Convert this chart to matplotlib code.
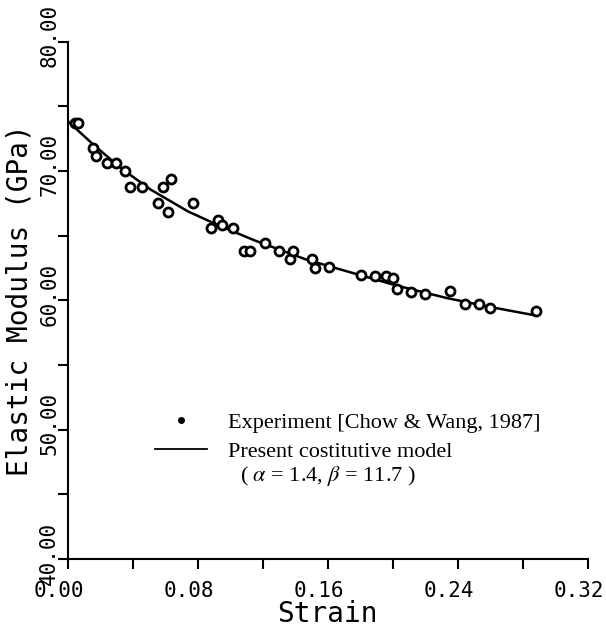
import matplotlib
matplotlib.use('Agg')
from matplotlib import pyplot as plt
from matplotlib.lines import Line2D
from matplotlib.ticker import MultipleLocator, FormatStrFormatter
from matplotlib.transforms import ScaledTranslation

# Datos
strain_exp = [0.0042, 0.0062, 0.0153, 0.0174, 0.0240, 0.0298, 0.0354, 0.0384,
              0.0460, 0.0557, 0.0587, 0.0620, 0.0638, 0.0773, 0.0882, 0.0924,
              0.0950, 0.1015, 0.1087, 0.1122, 0.1213, 0.1300, 0.1369, 0.1389,
              0.1502, 0.1521, 0.1609, 0.1805, 0.1893, 0.1959, 0.2000, 0.2026,
              0.2110, 0.2200, 0.2354, 0.2443, 0.2532, 0.2597, 0.2880]
modulo_exp = [73.73, 73.73, 71.77, 71.18, 70.63, 70.64, 70.00, 68.72,
              68.73, 67.53, 68.76, 66.83, 69.41, 67.50, 65.59, 66.24,
              65.85, 65.61, 63.77, 63.77, 64.40, 63.80, 63.18, 63.82,
              63.17, 62.47, 62.54, 61.94, 61.90, 61.91, 61.71, 60.90,
              60.65, 60.46, 60.69, 59.68, 59.70, 59.40, 59.19]

strain_mod = [0.0, 0.0158, 0.0329, 0.0511, 0.0743, 0.0950, 0.1156, 0.1465,
              0.1712, 0.2020, 0.2330, 0.2592, 0.2869]
modulo_mod = [73.85, 72.03, 70.20, 68.55, 66.85, 65.67, 64.60, 63.16,
              62.26, 61.15, 60.18, 59.50, 58.85]

mono = 'DejaVu Sans Mono'
serif = 'Liberation Serif'
plt.rcParams['mathtext.fontset'] = 'stix'

fig = plt.figure(figsize=(6.06, 6.30), dpi=100)
ax = fig.add_axes([0.1117, 0.1127, 0.858, 0.8214])

ax.plot(strain_mod, modulo_mod, color='black', lw=1.8)
ax.plot(strain_exp, modulo_exp, marker='o', linestyle='None', markersize=6.5,
        markerfacecolor='white', markeredgecolor='black', markeredgewidth=2.0)

ax.set_xlim(0, 0.32)
ax.set_ylim(40, 80)
ax.spines['top'].set_visible(False)
ax.spines['right'].set_visible(False)
ax.spines['left'].set_linewidth(1.5)
ax.spines['bottom'].set_linewidth(1.5)

ax.xaxis.set_major_locator(MultipleLocator(0.08))
ax.xaxis.set_minor_locator(MultipleLocator(0.04))
ax.yaxis.set_major_locator(MultipleLocator(10))
ax.yaxis.set_minor_locator(MultipleLocator(5))
ax.xaxis.set_major_formatter(FormatStrFormatter('%.2f'))
ax.yaxis.set_major_formatter(FormatStrFormatter('%.2f'))
ax.tick_params(which='both', direction='out', length=7, width=1.5)
ax.tick_params(axis='x', pad=9)
ax.tick_params(axis='y', pad=-1)

# en el original las etiquetas estan algo corridas respecto a las marcas
desplaza_x = ScaledTranslation(-9 / 100, 0, fig.dpi_scale_trans)
desplaza_y = ScaledTranslation(0, 6 / 100, fig.dpi_scale_trans)
for t in ax.get_xticklabels():
    t.set_fontfamily(mono)
    t.set_fontsize(15)
    t.set_transform(t.get_transform() + desplaza_x)
for t in ax.get_yticklabels():
    t.set_fontfamily(mono)
    t.set_fontsize(15)
    t.set_rotation(90)
    t.set_va('center')
    t.set_transform(t.get_transform() + desplaza_y)

ax.set_xlabel('Strain', family=mono, fontsize=20, labelpad=-1)
ax.set_ylabel('Elastic Modulus (GPa)', family=mono, fontsize=20, labelpad=4)

handles = [Line2D([], [], marker='o', linestyle='None', color='black', markersize=4),
           Line2D([], [], color='black', lw=1.3)]
labels = ['Experiment [Chow & Wang, 1987]', 'Present costitutive model']
ax.legend(handles, labels, loc='upper left', bbox_to_anchor=(0.168, 0.284),
          frameon=False, borderpad=0, borderaxespad=0, handlelength=2.35,
          handletextpad=0.95, labelspacing=0.4,
          prop={'family': serif, 'size': 16})
ax.text(0.331, 0.160, r'( $\alpha$ = 1.4, $\beta$ = 11.7 )', transform=ax.transAxes,
        family=serif, fontsize=16, va='center', ha='left')

fig.savefig('out.png', dpi=100)
